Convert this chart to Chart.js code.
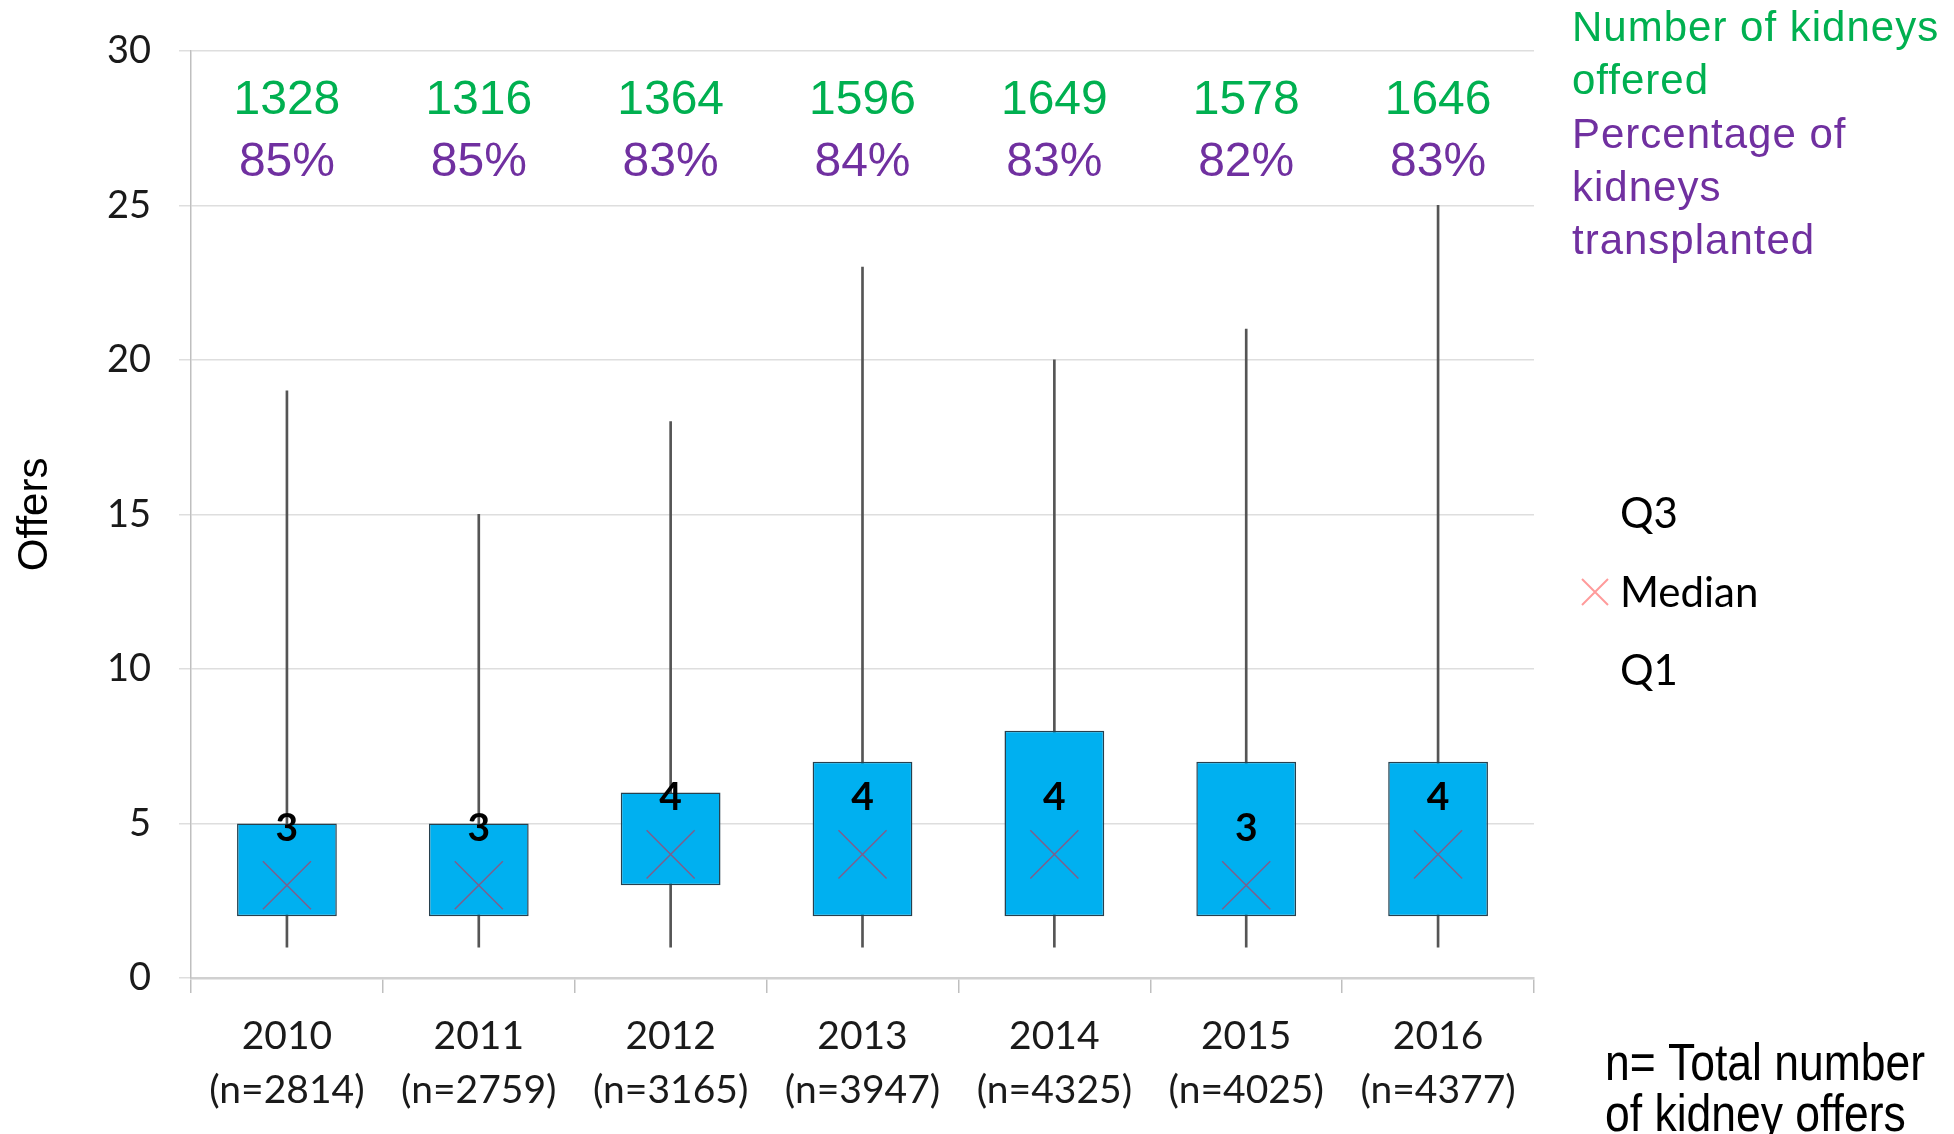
<!DOCTYPE html>
<html>
<head>
<meta charset="utf-8">
<script src="https://cdn.jsdelivr.net/npm/chart.js@4.4.0/dist/chart.umd.min.js"></script>
<style>
    html, body { margin: 0; padding: 0; background: #fff; }
    #wrap { width: 1954px; height: 1134px; }
</style>
</head>
<body>
<div id="wrap"><canvas id="offersChart" width="1954" height="1134"></canvas></div>
<script>
// Chart data
const years = ['2010', '2011', '2012', '2013', '2014', '2015', '2016'];
const totalOffers = [2814, 2759, 3165, 3947, 4325, 4025, 4377];
const whiskerMin = [1, 1, 1, 1, 1, 1, 1];
const whiskerMax = [19, 15, 18, 23, 20, 21, 25];
const q1 = [2, 2, 3, 2, 2, 2, 2];
const q3 = [5, 5, 6, 7, 8, 7, 7];
const medians = [3, 3, 4, 4, 4, 3, 4];
const kidneysOffered = [1328, 1316, 1364, 1596, 1649, 1578, 1646];
const pctTransplanted = [85, 85, 83, 84, 83, 82, 83];
const yTicks = [0, 5, 10, 15, 20, 25, 30];

const GREEN = '#00b050';
const PURPLE = '#7030a0';
const CALIBRI = 'Lato, "Open Sans", sans-serif';
const ARIAL = '"Liberation Sans", Arial, sans-serif';

const xLabels = years.map((y, i) => [y, '(n=' + totalOffers[i] + ')']);

// Draws the texts that Excel had as text boxes
const annotations = {
    id: 'annotations',
    afterDatasetsDraw(chart) {
        const ctx = chart.ctx;
        const x = chart.scales.x;
        const y = chart.scales.y;
        const top = chart.chartArea.top;
        ctx.save();
        ctx.textAlign = 'center';
        ctx.textBaseline = 'middle';

        // median value labels
        ctx.font = 'bold 39px ' + CALIBRI;
        ctx.fillStyle = '#000';
        medians.forEach((m, i) => {
            ctx.fillText(String(m), x.getPixelForValue(i), y.getPixelForValue(m + 1.85));
        });

        // offered / transplanted figures
        ctx.font = '48px ' + ARIAL;
        kidneysOffered.forEach((v, i) => {
            ctx.fillStyle = GREEN;
            ctx.fillText(String(v), x.getPixelForValue(i), top + 50);
            ctx.fillStyle = PURPLE;
            ctx.fillText(pctTransplanted[i] + '%', x.getPixelForValue(i), top + 112);
        });

        // right hand notes
        ctx.textAlign = 'left';
        ctx.font = '42px ' + ARIAL;
        ctx.letterSpacing = '1px';
        ctx.fillStyle = GREEN;
        ctx.fillText('Number of kidneys', 1572, 29);
        ctx.fillText('offered', 1572, 82);
        ctx.fillStyle = PURPLE;
        ctx.fillText('Percentage of', 1572, 136);
        ctx.fillText('kidneys', 1572, 189);
        ctx.fillText('transplanted', 1572, 242);
        ctx.letterSpacing = '0px';

        // box legend
        ctx.font = '42px ' + CALIBRI;
        ctx.fillStyle = '#000';
        ctx.fillText('Q3', 1620, 514);
        ctx.fillText('Median', 1620, 593);
        ctx.fillText('Q1', 1620, 671);
        ctx.strokeStyle = '#ff9b9b';
        ctx.lineWidth = 2;
        ctx.beginPath();
        ctx.moveTo(1582, 579); ctx.lineTo(1608, 605);
        ctx.moveTo(1608, 579); ctx.lineTo(1582, 605);
        ctx.stroke();

        // n= note, squeezed to look like a narrow face
        ctx.textBaseline = 'alphabetic';
        ctx.font = '52px ' + ARIAL;
        ctx.translate(1605, 0);
        ctx.scale(0.855, 1);
        ctx.fillText('n= Total number', 0, 1080);
        ctx.fillText('of kidney offers', 0, 1131);
        ctx.restore();
    }
};

const ctx = document.getElementById('offersChart').getContext('2d');
window.offersChart = new Chart(ctx, {
    type: 'bar',
    data: {
        labels: xLabels,
        datasets: [{
            label: 'Median',
            type: 'line',
            data: medians,
            showLine: false,
            pointStyle: 'crossRot',
            pointRadius: 34,
            pointHoverRadius: 34,
            pointBorderColor: '#7d5f8c',
            pointBorderWidth: 1.5,
            order: 1
        }, {
            label: 'Box',
            data: years.map((_, i) => [q1[i], q3[i]]),
            backgroundColor: '#00b0f0',
            borderColor: '#26404e',
            borderWidth: 1.5,
            borderSkipped: false,
            barPercentage: 0.52,
            categoryPercentage: 1,
            order: 2
        }, {
            label: 'Whisker',
            data: years.map((_, i) => [whiskerMin[i], whiskerMax[i]]),
            backgroundColor: '#555555',
            barThickness: 2,
            order: 3
        }]
    },
    options: {
        responsive: false,
        animation: false,
        layout: {
            padding: { left: 0, right: 420, top: 48, bottom: 0 }
        },
        plugins: {
            legend: { display: false },
            tooltip: { enabled: false }
        },
        scales: {
            x: {
                stacked: true,
                grid: {
                    offset: true,
                    drawOnChartArea: false,
                    tickLength: 15,
                    color: '#bfbfbf',
                    lineWidth: 1.5
                },
                border: { color: '#d0d0d0', width: 2.5 },
                ticks: {
                    color: '#1a1a1a',
                    padding: 17,
                    font: { family: CALIBRI, size: 39, lineHeight: 1.38 }
                },
                afterFit(scale) { scale.height = 156; }
            },
            y: {
                min: 0,
                max: 30,
                afterBuildTicks(scale) {
                    scale.ticks = yTicks.map(v => ({ value: v }));
                },
                grid: {
                    color: '#dedede',
                    lineWidth: 1.5,
                    tickLength: 12
                },
                border: { color: '#bfbfbf', width: 1.5 },
                ticks: {
                    color: '#1a1a1a',
                    padding: 28,
                    font: { family: CALIBRI, size: 38 }
                },
                title: {
                    display: true,
                    text: 'Offers',
                    color: '#000',
                    padding: { top: 10, bottom: 0 },
                    font: { family: ARIAL, size: 42 }
                },
                afterFit(scale) { scale.width = 191; }
            }
        }
    },
    plugins: [annotations]
});
</script>
</body>
</html>
